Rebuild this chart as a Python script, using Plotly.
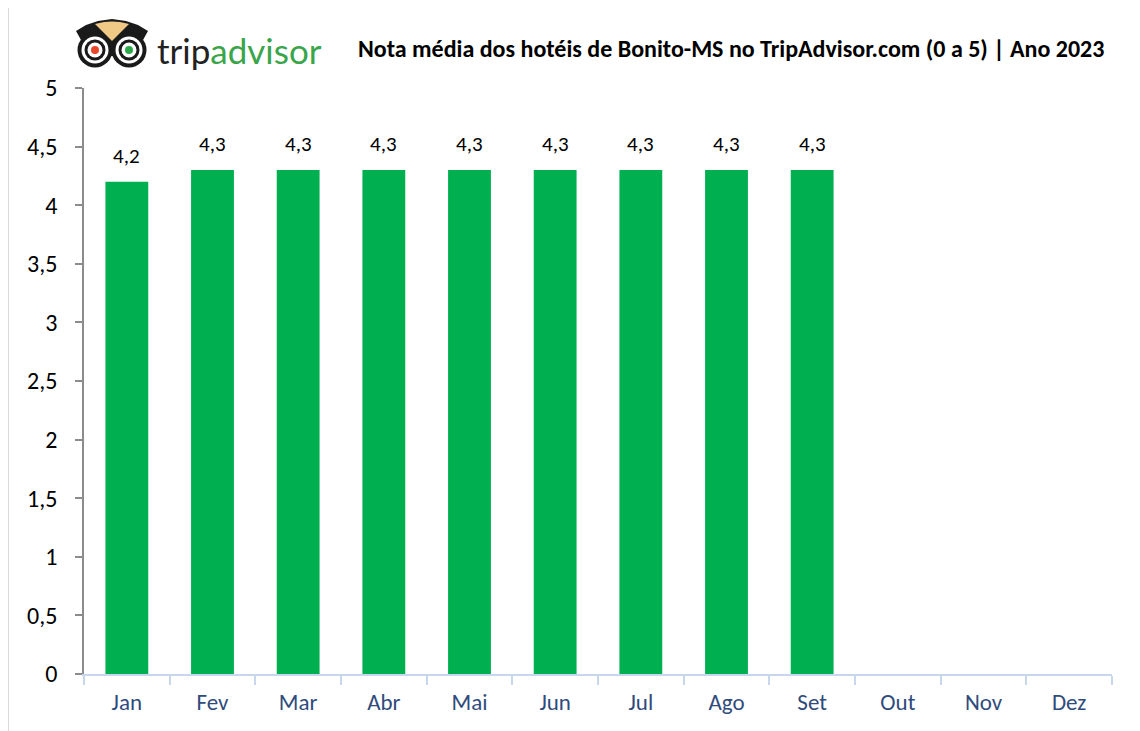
import plotly.graph_objects as go

months = ["Jan", "Fev", "Mar", "Abr", "Mai", "Jun", "Jul", "Ago", "Set", "Out", "Nov", "Dez"]
notas = [4.2, 4.3, 4.3, 4.3, 4.3, 4.3, 4.3, 4.3, 4.3, None, None, None]
y_ticks = [0, 0.5, 1, 1.5, 2, 2.5, 3, 3.5, 4, 4.5, 5]
y_tick_labels = ["0", "0,5", "1", "1,5", "2", "2,5", "3", "3,5", "4", "4,5", "5"]
title_text = "Nota média dos hotéis de Bonito-MS no TripAdvisor.com (0 a 5) | Ano 2023"

FONT = "Carlito, Calibri, Lato, sans-serif"
W, H = 1140, 731
L, R, T, B = 76, 36, 80, 65
PW, PH = W - L - R, H - T - B
OFF = 8  # page offset (body margin) in the rendered screenshot


def px(x):
    return (x - OFF - L) / PW


def py(y):
    return (H - B - (y - OFF)) / PH


fig = go.Figure()
fig.add_trace(go.Bar(
    x=months, y=notas, marker=dict(color="#00B050", line=dict(width=0)),
    hoverinfo="x+y",
))

annotations = []
for m, v in zip(months, notas):
    if v is None:
        continue
    annotations.append(dict(
        x=m, y=v, xref="x", yref="y", text=f"{v:.1f}".replace(".", ","),
        showarrow=False, yshift=26, font=dict(size=21, color="#000000", family=FONT),
    ))

annotations.append(dict(
    x=px(1106), y=py(48), xref="paper", yref="paper", xanchor="right", yanchor="middle",
    text="<b>" + title_text + "</b>", showarrow=False,
    font=dict(size=24, color="#000000", family=FONT),
))
annotations.append(dict(
    x=px(155), y=py(50), xref="paper", yref="paper", xanchor="left", yanchor="middle",
    text="<span style='color:#222222'>trip</span><span style='color:#3AA54A'>advisor</span>",
    showarrow=False,
    font=dict(size=35, family="Lato, sans-serif"),
))

shapes = []


def circle(cx, cy, r, fill):
    shapes.append(dict(
        type="circle", xref="paper", yref="paper",
        x0=px(cx - r), x1=px(cx + r), y0=py(cy + r), y1=py(cy - r),
        fillcolor=fill, line=dict(color=fill, width=0), layer="above",
    ))


def path(points, fill):
    d = "M " + " L ".join(f"{px(x)} {py(y)}" for x, y in points) + " Z"
    shapes.append(dict(type="path", xref="paper", yref="paper", path=d,
                       fillcolor=fill, line=dict(color=fill, width=0), layer="above"))


# owl head silhouette (dark) with ears
path([(76, 31), (86, 25), (98, 21), (112, 19), (126, 21), (138, 25), (148, 31),
      (143, 40), (143, 56), (81, 56), (81, 40)], "#1a1a1a")
# beige forehead
path([(95, 24), (104, 22), (112, 21.5), (120, 22), (129, 24), (112, 41)], "#F0C987")
for cx, pupil in [(95, "#E8472B"), (129, "#2DA84A")]:
    circle(cx, 50, 17.5, "#1a1a1a")
    circle(cx, 50, 13.5, "#FFFFFF")
    circle(cx, 50, 10.5, "#1a1a1a")
    circle(cx, 50, 7.5, "#FFFFFF")
    circle(cx, 50, 4, pupil)

# left frame border
shapes.append(dict(type="line", xref="paper", yref="paper",
                   x0=px(8.5), x1=px(8.5), y0=py(740), y1=py(8),
                   line=dict(color="#D9D9D9", width=1)))

fig.update_layout(
    width=W, height=H,
    margin=dict(l=L, r=R, t=T, b=B),
    paper_bgcolor="#FFFFFF", plot_bgcolor="#FFFFFF",
    bargap=0.5, showlegend=False,
    annotations=annotations, shapes=shapes,
    separators=",.",
    font=dict(family=FONT),
)
fig.update_xaxes(
    type="category", categoryorder="array", categoryarray=months,
    range=[-0.5, 11.5],
    showline=True, linecolor="#C9D7EE", linewidth=2,
    ticks="outside", tickson="boundaries", ticklen=9, tickcolor="#C9D7EE", tickwidth=2,
    tickfont=dict(size=23, color="#2F4B7C"), ticklabelstandoff=6,
    showgrid=False, zeroline=False,
)
fig.update_yaxes(
    range=[0, 5], tickvals=y_ticks, ticktext=y_tick_labels,
    showline=True, linecolor="#8C8C8C", linewidth=1.5,
    ticks="outside", ticklen=7, tickcolor="#8C8C8C", tickwidth=1.5,
    tickfont=dict(size=24, color="#000000"), ticklabelstandoff=13,
    showgrid=False, zeroline=False,
)

fig.write_html("out.html")
